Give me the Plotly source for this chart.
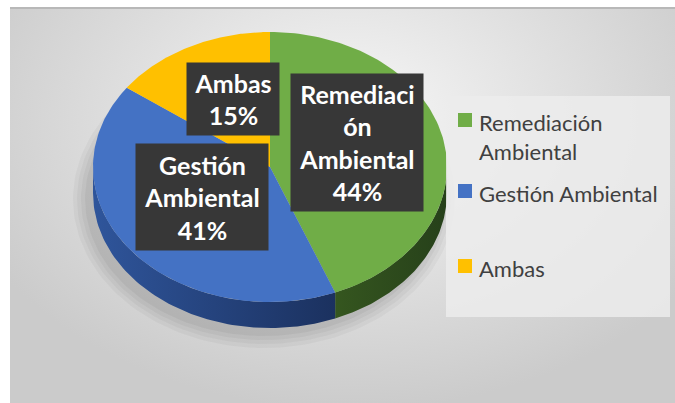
import numpy as np
import plotly.graph_objects as go

# ---- data ----
categories = ["Remediación Ambiental", "Gestión Ambiental", "Ambas"]
values = [44, 41, 15]
label_names = ["Remediaci<br>ón<br>Ambiental", "Gestión<br>Ambiental", "Ambas"]
legend_names = ["Remediación<br>Ambiental", "Gestión Ambiental", "Ambas"]
top_colors = ["#70AD47", "#4472C4", "#FFC000"]
side_colors = [["#35561f", "#26401a"], ["#2f559b", "#1b315f"], ["#b38600", "#8a6700"]]

# ---- geometry (page-pixel axis coordinates, y down) ----
CX, CY, RX, RY, DEPTH = 270, 167, 177, 135, 26
W, H = 675, 403
X0, Y0 = 10, 8                # where the grey chart area starts on the page


def pt(theta, dy=0.0):
    t = np.radians(theta)
    return CX + RX * np.sin(t), CY - RY * np.cos(t) + dy


fig = go.Figure()

# background gradient
fig.add_trace(go.Scatter(
    x=[-60, 760, 760, -60, -60], y=[-170, -170, 410, 410, -170],
    mode="lines", line=dict(width=0), fill="toself",
    fillgradient=dict(type="radial", colorscale=[[0, "#f7f7f7"], [1, "#cbcbcb"]]),
    hoverinfo="skip", showlegend=False))

# soft shadow
for k, a in enumerate([0.035, 0.035, 0.04, 0.045]):
    grow = 14 - 4 * k
    th = np.linspace(0, 360, 181)
    sx = CX - 6 + (RX + grow) * np.sin(np.radians(th))
    sy = CY + DEPTH + 6 - (RY + grow) * np.cos(np.radians(th))
    fig.add_trace(go.Scatter(x=sx, y=sy, mode="lines", line=dict(width=0),
                             fill="toself", fillcolor=f"rgba(0,0,0,{a})",
                             hoverinfo="skip", showlegend=False))

# slice angles (clockwise from 12 o'clock)
total = sum(values)
bounds = np.concatenate([[0], np.cumsum(values) / total * 360])

# side walls (front half only: 90..270)
for i in range(len(values)):
    a, b = max(bounds[i], 90), min(bounds[i + 1], 270)
    if b <= a:
        continue
    th = np.linspace(a, b, 80)
    tx, ty = pt(th)
    bx, by = pt(th[::-1], DEPTH)
    fig.add_trace(go.Scatter(
        x=np.concatenate([tx, bx, tx[:1]]), y=np.concatenate([ty, by, ty[:1]]),
        mode="lines", line=dict(width=0), fill="toself",
        fillgradient=dict(type="horizontal",
                          colorscale=[[0, side_colors[i][0]], [1, side_colors[i][1]]]),
        hoverinfo="skip", showlegend=False))

# top face sectors
for i in range(len(values)):
    th = np.linspace(bounds[i], bounds[i + 1], 120)
    ax, ay = pt(th)
    fig.add_trace(go.Scatter(
        x=np.concatenate([[CX], ax, [CX]]), y=np.concatenate([[CY], ay, [CY]]),
        mode="lines", line=dict(width=0), fill="toself", fillcolor=top_colors[i],
        name=categories[i], hoverinfo="name", showlegend=False))

# data label boxes (center x, center y, width, height)
label_boxes = [(357, 142, 132, 137), (202, 197, 132, 106), (233, 99, 92, 72)]
for i in range(len(values)):
    bx, by, bw, bh = label_boxes[i]
    fig.add_annotation(
        x=bx, y=by, xref="x", yref="y", showarrow=False,
        text=f"{label_names[i]}<br>{values[i]}%",
        font=dict(family="Lato", size=25, color="white", weight="bold"),
        bgcolor="#373737", borderpad=0, width=bw, height=bh,
        align="center", valign="middle", xanchor="center", yanchor="middle")

# legend panel
fig.add_shape(type="rect", xref="x", yref="y", x0=446, x1=670, y0=96, y1=317,
              fillcolor="rgba(236,236,236,0.85)", line=dict(width=0), layer="above")
legend_y = [120, 191, 266]
for i in range(len(values)):
    ly = legend_y[i]
    fig.add_shape(type="rect", xref="x", yref="y", x0=458, x1=472, y0=ly - 7, y1=ly + 7,
                  fillcolor=top_colors[i], line=dict(width=0), layer="above")
    fig.add_annotation(x=477, y=ly - 13, xref="x", yref="y", showarrow=False,
                       text=legend_names[i], xanchor="left", yanchor="top", align="left",
                       font=dict(family="Lato", size=22, color="#404040"))

# frame line on top
fig.add_shape(type="line", xref="paper", yref="paper", x0=X0 / W, x1=1, y0=1 - Y0 / H, y1=1 - Y0 / H,
              line=dict(color="#b8b8b8", width=2))

fig.update_xaxes(range=[X0, W], domain=[X0 / W, 1], visible=False, fixedrange=True)
fig.update_yaxes(range=[H, Y0], domain=[0, 1 - Y0 / H], visible=False, fixedrange=True)
fig.update_layout(width=W, height=H, margin=dict(l=0, r=0, t=0, b=0),
                  paper_bgcolor="white", plot_bgcolor="#d8d8d8", showlegend=False)

fig.write_html("out.html", config={"displayModeBar": False},
               post_script="document.body.style.margin='0';document.documentElement.style.overflow='hidden';document.body.style.overflow='hidden';")
